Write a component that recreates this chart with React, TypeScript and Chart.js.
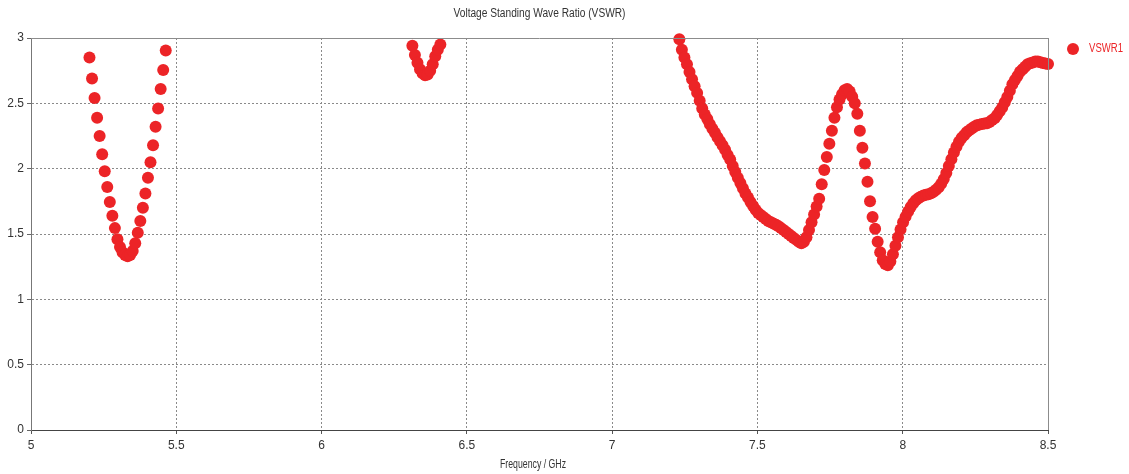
import React, { useEffect, useRef } from "react";
import { Chart, registerables } from "chart.js";

Chart.register(...registerables);

const chartTitle = "Voltage Standing Wave Ratio (VSWR)";
const xAxisTitle = "Frequency / GHz";
const seriesName = "VSWR1";

const xTicks = [5, 5.5, 6, 6.5, 7, 7.5, 8, 8.5];
const yTicks = [0, 0.5, 1, 1.5, 2, 2.5, 3];

// Band 1 (5.2 – 5.46 GHz)
const freq1 = [
  5.20125, 5.21, 5.21875, 5.2275, 5.23625, 5.245, 5.25375, 5.2625, 5.27125, 5.28,
  5.28875, 5.2975, 5.30625, 5.315, 5.32375, 5.3325, 5.34125, 5.35, 5.35875, 5.3675,
  5.37625, 5.385, 5.39375, 5.4025, 5.41125, 5.42, 5.42875, 5.4375, 5.44625, 5.455,
  5.46375,
];
const vswr1 = [
  2.85, 2.69, 2.54, 2.39, 2.25, 2.11, 1.98, 1.86, 1.745, 1.64,
  1.545, 1.46, 1.40, 1.36, 1.34, 1.33, 1.34, 1.37, 1.43, 1.51,
  1.60, 1.70, 1.81, 1.93, 2.05, 2.18, 2.32, 2.46, 2.61, 2.755,
  2.905,
];

// Band 2 (6.31 – 6.41 GHz)
const freq2 = [
  6.3125, 6.32125, 6.33, 6.33875, 6.3475, 6.35625, 6.365, 6.37375, 6.3825, 6.39125,
  6.4, 6.40875,
];
const vswr2 = [
  2.94, 2.87, 2.81, 2.76, 2.73, 2.715, 2.72, 2.75, 2.80, 2.86,
  2.91, 2.95,
];

// Band 3 (7.23 – 8.5 GHz)
const freq3 = [
  7.23125, 7.24, 7.24875, 7.2575, 7.26625, 7.275, 7.28375, 7.2925, 7.30125, 7.31,
  7.31875, 7.3275, 7.33625, 7.345, 7.35375, 7.3625, 7.37125, 7.38, 7.38875, 7.3975,
  7.40625, 7.415, 7.42375, 7.4325, 7.44125, 7.45, 7.45875, 7.4675, 7.47625, 7.485,
  7.49375, 7.5025, 7.51125, 7.52, 7.52875, 7.5375, 7.54625, 7.555, 7.56375, 7.5725,
  7.58125, 7.59, 7.59875, 7.6075, 7.61625, 7.625, 7.63375, 7.6425, 7.65125, 7.66,
  7.66875, 7.6775, 7.68625, 7.695, 7.70375, 7.7125, 7.72125, 7.73, 7.73875, 7.7475,
  7.75625, 7.765, 7.77375, 7.7825, 7.79125, 7.8, 7.80875, 7.8175, 7.82625, 7.835,
  7.84375, 7.8525, 7.86125, 7.87, 7.87875, 7.8875, 7.89625, 7.905, 7.91375, 7.9225,
  7.93125, 7.94, 7.94875, 7.9575, 7.96625, 7.975, 7.98375, 7.9925, 8.00125, 8.01,
  8.01875, 8.0275, 8.03625, 8.045, 8.05375, 8.0625, 8.07125, 8.08, 8.08875, 8.0975,
  8.10625, 8.115, 8.12375, 8.1325, 8.14125, 8.15, 8.15875, 8.1675, 8.17625, 8.185,
  8.19375, 8.2025, 8.21125, 8.22, 8.22875, 8.2375, 8.24625, 8.255, 8.26375, 8.2725,
  8.28125, 8.29, 8.29875, 8.3075, 8.31625, 8.325, 8.33375, 8.3425, 8.35125, 8.36,
  8.36875, 8.3775, 8.38625, 8.395, 8.40375, 8.4125, 8.42125, 8.43, 8.43875, 8.4475,
  8.45625, 8.465, 8.47375, 8.4825, 8.49125, 8.5,
];
const vswr3 = [
  2.99, 2.91, 2.85, 2.80, 2.74, 2.685, 2.63, 2.58, 2.52, 2.46,
  2.415, 2.38, 2.34, 2.305, 2.275, 2.24, 2.21, 2.18, 2.145, 2.105,
  2.07, 2.02, 1.975, 1.93, 1.89, 1.85, 1.81, 1.78, 1.745, 1.715,
  1.685, 1.66, 1.645, 1.63, 1.615, 1.60, 1.59, 1.58, 1.57, 1.56,
  1.545, 1.53, 1.515, 1.50, 1.485, 1.47, 1.455, 1.44, 1.43, 1.44,
  1.475, 1.53, 1.59, 1.65, 1.71, 1.77, 1.88, 1.99, 2.09, 2.19,
  2.29, 2.39, 2.47, 2.53, 2.57, 2.60, 2.61, 2.59, 2.55, 2.50,
  2.42, 2.29, 2.16, 2.04, 1.90, 1.75, 1.63, 1.54, 1.44, 1.36,
  1.30, 1.27, 1.26, 1.29, 1.345, 1.41, 1.475, 1.535, 1.59, 1.633,
  1.673, 1.707, 1.736, 1.758, 1.774, 1.786, 1.794, 1.80, 1.804, 1.811,
  1.823, 1.838, 1.858, 1.885, 1.92, 1.966, 2.02, 2.073, 2.123, 2.167,
  2.206, 2.234, 2.256, 2.278, 2.293, 2.307, 2.32, 2.333, 2.337, 2.341,
  2.345, 2.348, 2.358, 2.372, 2.386, 2.411, 2.439, 2.469, 2.509, 2.548,
  2.597, 2.646, 2.679, 2.71, 2.741, 2.76, 2.78, 2.799, 2.807, 2.813,
  2.82, 2.821, 2.815, 2.809, 2.804, 2.801,
];

const RED = "#EC2427";
const FONT = "'Liberation Sans', Arial, sans-serif";

function buildPoints() {
  const pts: { x: number; y: number }[] = [];
  const bands: [number[], number[]][] = [
    [freq1, vswr1],
    [freq2, vswr2],
    [freq3, vswr3],
  ];
  for (const [f, v] of bands) {
    for (let i = 0; i < f.length; i++) pts.push({ x: f[i], y: v[i] });
  }
  return pts;
}

const decorPlugin = {
  id: "decor",
  afterDraw(chart: any) {
    const { ctx, chartArea } = chart;
    const { left, right, top, bottom } = chartArea;
    ctx.save();
    // top & right frame
    ctx.strokeStyle = "#8c8c8c";
    ctx.lineWidth = 1;
    ctx.beginPath();
    ctx.moveTo(left, top + 0.5);
    ctx.lineTo(right, top + 0.5);
    ctx.moveTo(right + 0.5, top);
    ctx.lineTo(right + 0.5, bottom);
    ctx.stroke();
    // title
    ctx.fillStyle = "#333";
    ctx.font = `12px ${FONT}`;
    ctx.textAlign = "center";
    ctx.textBaseline = "middle";
    ctx.fillText(chartTitle, (left + right) / 2, 14, 172);
    // x-axis title
    ctx.font = `12px ${FONT}`;
    ctx.textAlign = "left";
    ctx.fillText(xAxisTitle, 500, 465, 66);
    // legend
    ctx.fillStyle = RED;
    ctx.beginPath();
    ctx.arc(1073, 49, 6, 0, Math.PI * 2);
    ctx.fill();
    ctx.font = `12px ${FONT}`;
    ctx.textAlign = "left";
    ctx.fillText(seriesName, 1089, 49, 34);
    ctx.restore();
  },
};

export default function App() {
  const canvasRef = useRef<HTMLCanvasElement | null>(null);

  useEffect(() => {
    const canvas = canvasRef.current;
    if (!canvas) return;
    const gridColor = (ctx: any, n: number) =>
      ctx.index === 0 || ctx.index === n - 1 ? "rgba(0,0,0,0)" : "#8a8a8a";
    const chart = new Chart(canvas, {
      type: "scatter",
      data: {
        datasets: [
          {
            label: seriesName,
            data: buildPoints(),
            pointRadius: 6,
            pointHoverRadius: 6,
            pointBackgroundColor: RED,
            pointBorderWidth: 0,
            showLine: false,
            clip: false,
          } as any,
        ],
      },
      options: {
        responsive: false,
        animation: false,
        events: [],
        layout: { padding: { top: 38, right: 81, left: 0, bottom: 0 } },
        plugins: {
          legend: { display: false },
          title: { display: false },
          tooltip: { enabled: false },
        },
        scales: {
          x: {
            type: "linear",
            min: 5,
            max: 8.5,
            afterBuildTicks: (s: any) => {
              s.ticks = xTicks.map((v) => ({ value: v }));
            },
            afterFit: (s: any) => {
              s.height = 44;
            },
            grid: {
              color: (c: any) => gridColor(c, xTicks.length),
              lineWidth: 1,
              tickLength: 4,
              tickColor: "#555",
              drawTicks: true,
            },
            border: { display: true, color: "#444", width: 1, dash: [2, 2] },
            ticks: {
              color: "#333",
              font: { family: FONT, size: 12 },
              padding: 4,
              maxRotation: 0,
              autoSkip: false,
              callback: (v: any) => String(v),
            },
          },
          y: {
            type: "linear",
            min: 0,
            max: 3,
            afterBuildTicks: (s: any) => {
              s.ticks = yTicks.map((v) => ({ value: v }));
            },
            afterFit: (s: any) => {
              s.width = 31;
            },
            grid: {
              color: (c: any) => gridColor(c, yTicks.length),
              lineWidth: 1,
              tickLength: 4,
              tickColor: "#666",
              drawTicks: true,
            },
            border: { display: true, color: "#777", width: 1, dash: [2, 2] },
            ticks: {
              color: "#333",
              font: { family: FONT, size: 12 },
              padding: 3,
              autoSkip: false,
              callback: (v: any) => String(v),
            },
          },
        },
      },
      plugins: [decorPlugin],
    });
    return () => chart.destroy();
  }, []);

  return (
    <div style={{ position: "fixed", left: 0, top: 0, width: 1129, height: 474, background: "#fff" }}>
      <canvas ref={canvasRef} width={1129} height={474} style={{ width: 1129, height: 474, display: "block" }} />
    </div>
  );
}
